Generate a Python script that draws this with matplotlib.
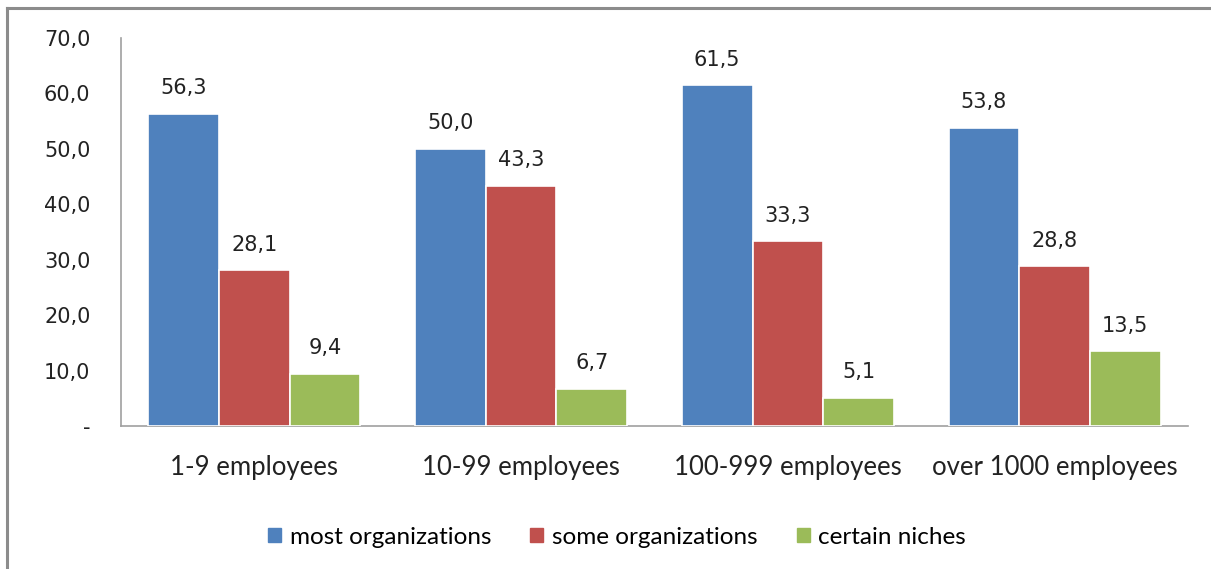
import numpy as np
import matplotlib.pyplot as plt
from matplotlib.patches import Rectangle
from matplotlib.lines import Line2D

categories = ["1-9 employees", "10-99 employees", "100-999 employees", "over 1000 employees"]
series_names = ["most organizations", "some organizations", "certain niches"]
most_orgs = [56.3, 50.0, 61.5, 53.8]
some_orgs = [28.1, 43.3, 33.3, 28.8]
niches = [9.4, 6.7, 5.1, 13.5]
colors = ["#4f81bd", "#c0504d", "#9bbb59"]
y_ticks = [0, 10, 20, 30, 40, 50, 60, 70]

fig = plt.figure(figsize=(12.11, 5.69), dpi=100)
ax = fig.add_axes([121 / 1211, 1 - 426 / 569, (1188 - 121) / 1211, (426 - 38) / 569])

# outer frame of the chart area (top and left edges visible)
fig.add_artist(Line2D([7 / 1211, 7 / 1211], [1 - 8 / 569, 1 - 567 / 569],
                      transform=fig.transFigure, color="#8c8c8c", lw=2.2))
fig.add_artist(Line2D([7 / 1211, 1.0], [1 - 8 / 569, 1 - 8 / 569],
                      transform=fig.transFigure, color="#8c8c8c", lw=2.2))

x = np.arange(len(categories))
w = 0.265
num_font = "DejaVu Sans"
for i, (vals, name) in enumerate(zip([most_orgs, some_orgs, niches], series_names)):
    pos = x + (i - 1) * w
    ax.bar(pos, vals, width=w, color=colors[i], edgecolor="white", linewidth=1.2,
           label=name, zorder=3)
    for p, v in zip(pos, vals):
        ax.text(p, v + 4.6, f"{v:.1f}".replace(".", ","), ha="center", va="center",
                fontsize=15, family=num_font, color="#222222")

ax.set_xlim(-0.5, 3.5)
ax.set_ylim(0, 70)
ax.set_yticks(y_ticks)
ax.set_yticklabels(["-"] + [f"{t:.1f}".replace(".", ",") for t in y_ticks[1:]],
                   family=num_font, fontsize=15, color="#222222")
ax.set_xticks(x)
ax.set_xticklabels(categories, family="Lato", fontsize=18.5, color="#222222")
ax.tick_params(axis="y", length=0, pad=22)
ax.tick_params(axis="x", length=0, pad=21)
for s in ["top", "right"]:
    ax.spines[s].set_visible(False)
for s in ["left", "bottom"]:
    ax.spines[s].set_color("#a0a0a0")
    ax.spines[s].set_linewidth(1.2)

handles = [Rectangle((0, 0), 1, 1, color=c) for c in colors]
fig.legend(handles, series_names, loc="center", bbox_to_anchor=(617 / 1211, 1 - 537 / 569),
           ncol=3, frameon=False, prop={"family": "Lato", "size": 17.5},
           handlelength=0.55, handleheight=0.55, columnspacing=1.6, handletextpad=0.35)

plt.savefig("out.png", dpi=100)
